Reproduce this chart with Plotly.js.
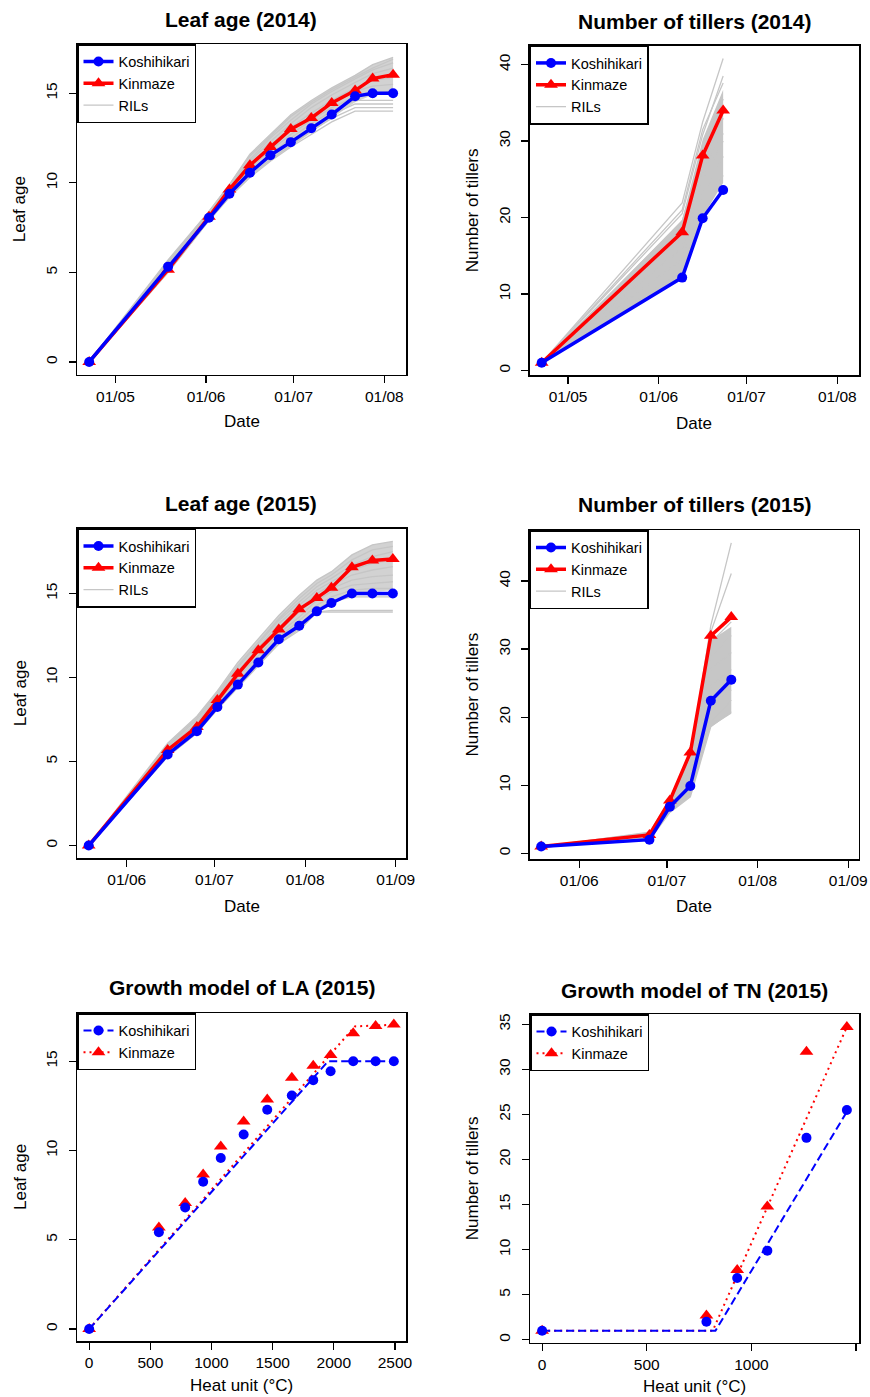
<!DOCTYPE html>
<html><head><meta charset="utf-8">
<script src="https://cdn.plot.ly/plotly-3.0.1.min.js"></script>
<style>html,body{margin:0;padding:0;background:#fff}#chart{width:870px;height:1397px}</style>
</head><body><div id="chart"></div>
<script>
// ---------- DATA ----------
const dates2014LA = ['2014-04-22','2014-05-19','2014-06-02','2014-06-09','2014-06-16','2014-06-23','2014-06-30','2014-07-07','2014-07-14','2014-07-22','2014-07-28','2014-08-04'];
const koshiLA2014 = [0, 5.32, 8.05, 9.39, 10.56, 11.54, 12.27, 13.05, 13.81, 14.83, 15.0, 15.0];
const kinLA2014   = [0, 5.15, 8.10, 9.63, 10.98, 12.00, 13.00, 13.62, 14.46, 15.15, 15.82, 16.04];
const rilLA2014Upper = [0, 5.7, 8.4, 9.9, 11.6, 12.7, 13.8, 14.6, 15.3, 16.0, 16.6, 17.0];
const rilLA2014Lower = [0, 5.0, 7.9, 9.2, 10.3, 11.2, 12.0, 12.8, 13.6, 14.5, 14.9, 15.0];
const rilLA2014 = [
  [0, 5.7, 8.4, 9.9, 11.6, 12.7, 13.8, 14.6, 15.3, 16.0, 16.6, 17.0],
  [0, 5.6, 8.4, 9.9, 11.5, 12.6, 13.7, 14.5, 15.2, 15.9, 16.4, 16.9],
  [0, 5.6, 8.3, 9.8, 11.3, 12.5, 13.5, 14.4, 15.1, 15.8, 16.3, 16.7],
  [0, 5.5, 8.3, 9.7, 11.2, 12.3, 13.3, 14.2, 14.9, 15.6, 16.1, 16.4],
  [0, 5.4, 8.2, 9.6, 11.0, 12.1, 13.1, 13.9, 14.6, 15.3, 15.7, 15.9],
  [0, 5.3, 8.1, 9.5, 10.9, 11.9, 12.9, 13.7, 14.4, 15.1, 15.4, 15.5],
  [0, 5.2, 8.1, 9.4, 10.8, 11.8, 12.7, 13.5, 14.2, 14.8, 15.0, 15.1],
  [0, 5.2, 8.0, 9.4, 10.6, 11.6, 12.5, 13.3, 14.0, 14.6, 14.6, 14.6],
  [0, 5.1, 8.0, 9.3, 10.5, 11.5, 12.3, 13.1, 13.8, 14.4, 14.4, 14.4],
  [0, 5.0, 7.9, 9.2, 10.4, 11.3, 12.1, 12.9, 13.6, 14.2, 14.2, 14.2],
  [0, 5.0, 7.9, 9.2, 10.3, 11.2, 12.0, 12.7, 13.4, 14.0, 14.0, 14.0]
];

const dates2014TN = ['2014-04-22','2014-06-09','2014-06-16','2014-06-23'];
const koshiTN2014 = [1, 12.14, 19.9, 23.6];
const kinTN2014   = [1, 18.08, 28.1, 34.0];
const rilTN2014Upper = [1, 19.7, 30.2, 36.7];
const rilTN2014Lower = [1, 12.3, 20.1, 24.5];
const rilTN2014 = [
  [1, 21.9, 32.5, 40.8],
  [1, 21.0, 31.5, 37.6],
  [1, 20.5, 30.8, 38.5],
  [1, 19.5, 29.0, 35.5],
  [1, 18.5, 26.0, 31.0],
  [1, 17.5, 27.0, 33.0],
  [1, 16.0, 25.0, 30.0],
  [1, 14.5, 23.0, 28.0],
  [1, 13.0, 21.0, 25.5]
];

const dates2015LA = ['2015-05-19','2015-06-15','2015-06-25','2015-07-02','2015-07-09','2015-07-16','2015-07-23','2015-07-30','2015-08-05','2015-08-10','2015-08-17','2015-08-24','2015-08-31'];
const koshiLA2015 = [0, 5.42, 6.81, 8.25, 9.58, 10.90, 12.28, 13.08, 13.94, 14.44, 15.0, 15.0, 15.0];
const kinLA2015   = [0, 5.69, 7.06, 8.66, 10.22, 11.63, 12.86, 14.07, 14.74, 15.35, 16.56, 16.97, 17.06];
const rilLA2015Upper = [0, 6.1, 7.7, 9.2, 10.9, 12.3, 13.7, 14.9, 15.8, 16.3, 17.3, 17.9, 18.1];
const rilLA2015Lower = [0, 5.3, 6.7, 8.1, 9.4, 10.7, 12.0, 12.9, 14.0, 14.6, 15.0, 15.1, 15.2];
const rilLA2015 = [
  [0, 6.1, 7.7, 9.2, 10.9, 12.3, 13.7, 14.9, 15.8, 16.3, 17.3, 17.9, 18.1],
  [0, 6.0, 7.6, 9.1, 10.7, 12.1, 13.5, 14.7, 15.6, 16.1, 17.0, 17.6, 17.8],
  [0, 5.9, 7.5, 9.0, 10.6, 12.0, 13.4, 14.5, 15.4, 15.9, 16.7, 17.2, 17.5],
  [0, 5.8, 7.3, 8.9, 10.4, 11.8, 13.2, 14.3, 15.2, 15.7, 16.4, 16.8, 17.0],
  [0, 5.7, 7.2, 8.8, 10.3, 11.7, 13.0, 14.1, 15.0, 15.5, 16.1, 16.4, 16.6],
  [0, 5.6, 7.1, 8.6, 10.1, 11.5, 12.8, 13.9, 14.8, 15.3, 15.8, 16.0, 16.1],
  [0, 5.5, 7.0, 8.5, 10.0, 11.3, 12.6, 13.6, 14.6, 15.1, 15.5, 15.6, 15.7],
  [0, 5.5, 6.9, 8.4, 9.8, 11.1, 12.4, 13.4, 14.3, 14.8, 15.2, 15.3, 15.3],
  [0, 5.4, 6.8, 8.3, 9.6, 10.9, 12.2, 13.1, 14.1, 14.5, 14.8, 14.8, 14.8],
  [0, 5.3, 6.7, 8.2, 9.5, 10.8, 12.0, 12.9, 13.9, 14.0, 14.0, 14.0, 14.0],
  [0, 5.3, 6.7, 8.1, 9.4, 10.7, 12.0, 12.8, 13.9, 13.9, 13.9, 13.9, 13.9]
];

const dates2015TN = ['2015-05-19','2015-06-25','2015-07-02','2015-07-09','2015-07-16','2015-07-23'];
const koshiTN2015 = [1, 2.0, 6.85, 9.89, 22.4, 25.5];
const kinTN2015   = [1, 2.7, 7.75, 14.8, 31.95, 34.7];
const rilTN2015Upper = [1, 3.2, 8.0, 14.0, 31.3, 33.3];
const rilTN2015Lower = [1, 1.9, 6.0, 8.3, 18.6, 20.5];
const rilTN2015 = [
  [1, 3.0, 7.8, 14.2, 33.5, 45.6],
  [1, 2.9, 7.6, 13.5, 32.5, 41.1],
  [1, 2.8, 7.4, 12.8, 31.0, 34.0],
  [1, 2.6, 7.2, 12.0, 29.0, 32.0],
  [1, 2.5, 6.9, 11.0, 27.0, 29.5],
  [1, 2.3, 6.6, 10.0, 24.5, 27.0],
  [1, 2.2, 6.4, 9.2, 22.0, 24.0],
  [1, 2.0, 6.2, 8.6, 19.5, 22.5],
  [1, 1.9, 6.0, 8.3, 18.6, 20.8]
];

const heatLA = [0, 570, 785, 932, 1076, 1263, 1456, 1657, 1832, 1974, 2159, 2342, 2491];
const heatTN = [0, 785, 932, 1076, 1263, 1456];
const laModelKoshiX = [0, 1954, 2491];
const laModelKoshiY = [0, 15.0, 15.0];
const laModelKinX = [0, 2173, 2491];
const laModelKinY = [0, 16.95, 17.04];
const tnModelKoshiX = [0, 828, 1456];
const tnModelKoshiY = [1, 1, 25.3];
const tnModelKinX = [0, 815, 1456];
const tnModelKinY = [1, 1, 34.7];

const titles = ['Leaf age (2014)','Number of tillers (2014)','Leaf age (2015)','Number of tillers (2015)','Growth model of LA (2015)','Growth model of TN (2015)'];

// ---------- STYLE ----------
const F = 'Liberation Sans, Arial, sans-serif';
const BLUE = '#0000ff', RED = '#ff0000', GRAY = '#c6c6c6', BAND = '#d2d2d2';
const W = 870, H = 1397;
// panel boxes in px: [left, right, top, bottom]
const boxes = [
  [77, 406, 44, 374.5],
  [529.5, 859, 45.5, 375],
  [77, 406, 528.5, 858],
  [529.5, 858.5, 530, 859],
  [77, 406, 1013, 1341],
  [530, 859, 1014, 1342.5]
];

const traces = [];
function ax(i){ return i === 0 ? '' : String(i+1); }
function legName(i){ return i === 0 ? 'legend' : 'legend' + (i+1); }

function rilLines(xs, lines, i){
  const x = [], y = [];
  lines.forEach(l => { l.forEach((v,k)=>{ x.push(xs[k]); y.push(v); }); x.push(null); y.push(null); });
  traces.push({x, y, type:'scatter', mode:'lines', name:'RILs', line:{color:GRAY, width:1.3},
    xaxis:'x'+ax(i), yaxis:'y'+ax(i), legend:legName(i), legendrank:3, hoverinfo:'skip', connectgaps:false});
}
function rilBand(xs, upper, lower, i, col){
  const x = xs.concat(xs.slice().reverse());
  const y = upper.concat(lower.slice().reverse());
  traces.push({x, y, type:'scatter', mode:'lines', fill:'toself', fillcolor:col, line:{width:0, color:col},
    xaxis:'x'+ax(i), yaxis:'y'+ax(i), showlegend:false, hoverinfo:'skip'});
}
function parents(xs, koshi, kin, i){
  traces.push({x:xs, y:kin, type:'scatter', mode:'lines+markers', name:'Kinmaze',
    line:{color:RED, width:3.5}, marker:{symbol:'triangle-up', size:12, color:RED},
    xaxis:'x'+ax(i), yaxis:'y'+ax(i), legend:legName(i), legendrank:2});
  traces.push({x:xs, y:koshi, type:'scatter', mode:'lines+markers', name:'Koshihikari',
    line:{color:BLUE, width:3.5}, marker:{symbol:'circle', size:10, color:BLUE},
    xaxis:'x'+ax(i), yaxis:'y'+ax(i), legend:legName(i), legendrank:1});
}
function model(hx, koshi, kin, mkx, mky, mnx, mny, i){
  const xa = 'x'+ax(i), ya = 'y'+ax(i), lg = legName(i);
  traces.push({x:mnx, y:mny, type:'scatter', mode:'lines', line:{color:RED, width:2, dash:'2px,4px'}, xaxis:xa, yaxis:ya, showlegend:false});
  traces.push({x:mkx, y:mky, type:'scatter', mode:'lines', line:{color:BLUE, width:2, dash:'8px,4px'}, xaxis:xa, yaxis:ya, showlegend:false});
  traces.push({x:hx, y:kin, type:'scatter', mode:'markers', marker:{symbol:'triangle-up', size:12, color:RED}, xaxis:xa, yaxis:ya, showlegend:false, name:'Kinmaze'});
  traces.push({x:hx, y:koshi, type:'scatter', mode:'markers', marker:{symbol:'circle', size:10, color:BLUE}, xaxis:xa, yaxis:ya, showlegend:false, name:'Koshihikari'});
  // legend keys (no data)
  traces.push({x:[null], y:[null], type:'scatter', mode:'lines+markers', name:'Koshihikari', line:{color:BLUE, width:2, dash:'8px,4px'}, marker:{symbol:'circle', size:10, color:BLUE}, xaxis:xa, yaxis:ya, legend:lg, legendrank:1});
  traces.push({x:[null], y:[null], type:'scatter', mode:'lines+markers', name:'Kinmaze', line:{color:RED, width:2, dash:'2px,4px'}, marker:{symbol:'triangle-up', size:12, color:RED}, xaxis:xa, yaxis:ya, legend:lg, legendrank:2});
}

// panel 1
rilBand(dates2014LA, rilLA2014Upper, rilLA2014Lower, 0, BAND);
rilLines(dates2014LA, rilLA2014, 0);
parents(dates2014LA, koshiLA2014, kinLA2014, 0);
// panel 2
rilBand(dates2014TN, rilTN2014Upper, rilTN2014Lower, 1, GRAY);
rilLines(dates2014TN, rilTN2014, 1);
parents(dates2014TN, koshiTN2014, kinTN2014, 1);
// panel 3
rilBand(dates2015LA, rilLA2015Upper, rilLA2015Lower, 2, BAND);
rilLines(dates2015LA, rilLA2015, 2);
parents(dates2015LA, koshiLA2015, kinLA2015, 2);
// panel 4
rilBand(dates2015TN, rilTN2015Upper, rilTN2015Lower, 3, GRAY);
rilLines(dates2015TN, rilTN2015, 3);
parents(dates2015TN, koshiTN2015, kinTN2015, 3);
// panel 5, 6
model(heatLA, koshiLA2015, kinLA2015, laModelKoshiX, laModelKoshiY, laModelKinX, laModelKinY, 4);
model(heatTN, koshiTN2015, kinTN2015, tnModelKoshiX, tnModelKoshiY, tnModelKinX, tnModelKinY, 5);

// ---------- LAYOUT ----------
const layout = {width:W, height:H, margin:{l:0,r:0,t:0,b:0}, paper_bgcolor:'#fff', plot_bgcolor:'#fff',
  font:{family:F, color:'#000'}, annotations:[], showlegend:true};

const xRanges = [
  ['2014-04-17 20:00','2014-08-08 10:00'], ['2014-04-17 20:00','2014-08-08 10:00'],
  ['2015-05-15 00:00','2015-09-04 12:00'], ['2015-05-15 00:00','2015-09-04 12:00'],
  [-99.6, 2590.6], [-58, 1514]
];
const yRanges = [[-0.7,17.75],[-0.6,42.5],[-0.74,18.87],[-0.84,47.5],[-0.67,17.7],[-0.3,36.14]];
const xTickVals = [
  ['2014-05-01','2014-06-01','2014-07-01','2014-08-01'], ['2014-05-01','2014-06-01','2014-07-01','2014-08-01'],
  ['2015-06-01','2015-07-01','2015-08-01','2015-09-01'], ['2015-06-01','2015-07-01','2015-08-01','2015-09-01'],
  [0,500,1000,1500,2000,2500], [0,500,1000,1500]
];
const xTickText = [
  ['01/05','01/06','01/07','01/08'], ['01/05','01/06','01/07','01/08'],
  ['01/06','01/07','01/08','01/09'], ['01/06','01/07','01/08','01/09'],
  ['0','500','1000','1500','2000','2500'], ['0','500','1000','1500']
];
const yTickVals = [[0,5,10,15],[0,10,20,30,40],[0,5,10,15],[0,10,20,30,40],[0,5,10,15],[0,5,10,15,20,25,30,35]];
const yTitles = ['Leaf age','Number of tillers','Leaf age','Number of tillers','Leaf age','Number of tillers'];
const xTitles = ['Date','Date','Date','Date','Heat unit (°C)','Heat unit (°C)'];
const titlePos = [[241,19],[694,21],[241,503],[694,505],[241.5,987],[694.5,990]];
const yTitlePos = [19, 472, 20, 472, 20, 472];
const xTitleY = [421.7, 423, 906, 906.7, 1385, 1386.7];

const axCommon = {showline:true, mirror:true, linecolor:'#000', linewidth:1.5, ticks:'outside', ticklen:7,
  tickwidth:1.2, tickcolor:'#000', showgrid:false, zeroline:false, fixedrange:true,
  tickfont:{family:F, size:15.5, color:'#000'}};

boxes.forEach((b,i)=>{
  const [l,r,t,bt] = b;
  const s = ax(i);
  const isDate = i < 4;
  layout['xaxis'+s] = Object.assign({}, axCommon, {domain:[l/W, r/W], anchor:'y'+s,
    type: isDate ? 'date' : 'linear', range:xRanges[i], tickmode:'array', tickvals:xTickVals[i], ticktext:xTickText[i]});
  layout['yaxis'+s] = Object.assign({}, axCommon, {domain:[1-bt/H, 1-t/H], anchor:'x'+s,
    range:yRanges[i], tickmode:'array', tickvals:yTickVals[i], tickangle:-90, ticklabelstandoff:5});
  layout[legName(i)] = {x:l/W, y:1-t/H, xanchor:'left', yanchor:'top', bgcolor:'#fff',
    bordercolor:'#000', borderwidth:1.5, font:{family:F, size:14.5, color:'#000'}, tracegroupgap:0, itemwidth:30};
  layout.annotations.push({text:'<b>'+titles[i]+'</b>', xref:'paper', yref:'paper',
    x:titlePos[i][0]/W, y:1-titlePos[i][1]/H, xanchor:'center', yanchor:'middle', showarrow:false,
    font:{family:F, size:21, color:'#000'}});
  layout.annotations.push({text:yTitles[i], xref:'paper', yref:'paper', textangle:-90,
    x:yTitlePos[i]/W, y:1-((t+bt)/2)/H, xanchor:'center', yanchor:'middle', showarrow:false,
    font:{family:F, size:17, color:'#000'}});
  layout.annotations.push({text:xTitles[i], xref:'paper', yref:'paper',
    x:((l+r)/2)/W, y:1-xTitleY[i]/H, xanchor:'center', yanchor:'middle', showarrow:false,
    font:{family:F, size:17, color:'#000'}});
});

Plotly.newPlot('chart', traces, layout, {displayModeBar:false, staticPlot:true});
</script>
</body></html>
